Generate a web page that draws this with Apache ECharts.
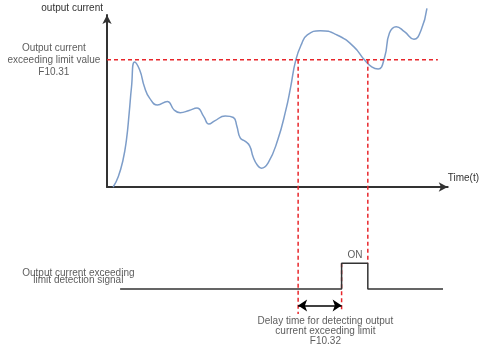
<!DOCTYPE html>
<html>
<head>
<meta charset="utf-8">
<script src="https://cdn.jsdelivr.net/npm/echarts@6/dist/echarts.min.js"></script>
<style>
  html, body { margin: 0; padding: 0; background: #fff; }
  #chart { width: 480px; height: 347px; }
</style>
</head>
<body>
<div id="chart"></div>
<script>
// output current curve (time / current, arbitrary units)
const curveTime = [1.8, 3.3, 4.7, 5.7, 6.5, 7.2, 8.1, 9.6, 11.0, 12.5, 14.8, 17.7, 19.7, 21.5, 24.1, 26.4,
  28.4, 29.9, 31.6, 34.7, 37.1, 38.1, 39.1, 40.6, 41.9, 42.9, 44.1, 45.3, 47.3, 50.1, 52.5, 53.9,
  55.4, 57.1, 58.8, 62.6, 67.5, 72.4, 75.6, 77.7, 79.6, 81.5, 82.9, 84.9, 87.3, 90.1, 92.2, 93.9];
const curveCurrent = [0, 6.0, 15.7, 27.3, 42.8, 58.3, 72.7, 68.0, 58.1, 51.7, 47.7, 49.7, 44.8, 43.2, 44.5, 45.9,
  40.9, 36.6, 38.4, 41.3, 40.4, 35.5, 28.5, 26.5, 23.8, 17.4, 12.8, 10.9, 14.0, 27.3, 44.8, 58.1,
  73.8, 83.1, 88.4, 90.9, 88.4, 81.6, 73.8, 69.8, 68.6, 75.6, 89.5, 93.2, 90.3, 85.9, 91.3, 103.9];

// limit F10.31 and the times where the curve crosses it
const limitValue = 74;
const limitLineEnd = 95.9;
const crossUp = 55.4;
const crossDown = 75.6;
const signalOnTime = 68.0;

// detection signal (lower part, same time scale)
const signalTime = [3.8, 68.0, 68.0, 75.6, 75.6, 97.4];
const signalLevel = [-59.3, -59.3, -44.4, -44.4, -59.3, -59.3];
const guideBottom = -73.8;
const riseGuideBottom = -72.7;
const delayArrowLevel = -68.9;

// text annotations
const noteTexts = [
  'Output current\nexceeding limit value\nF10.31',
  'Output current exceeding\nlimit detection signal',
  'ON',
  'Delay time for detecting output\ncurrent exceeding limit\nF10.32'
];
const noteTime = [-15.4, -8.3, 71.9, 63.3];
const noteLevel = [73.5, -52.3, -39.8, -83.7];
const noteLineHeight = [12, 7.5, 12, 10];

const FONT = 'Liberation Sans, Arial, sans-serif';
const RED = '#e8262b';
const INK = '#333';

const chart = echarts.init(document.getElementById('chart'));

const redDash = { color: RED, width: 1.5, type: [4, 3] };
const zip = (a, b) => a.map((v, i) => [v, b[i]]);

chart.setOption({
  animation: false,
  grid: [
    { left: 107, top: 15, width: 345, height: 172 },
    { left: 107, top: 15, width: 345, height: 326.8 }
  ],
  xAxis: [{
    type: 'value',
    gridIndex: 0,
    min: 0,
    max: 100,
    name: 'Time(t)',
    nameLocation: 'end',
    nameGap: 0,
    nameTextStyle: { fontFamily: FONT, fontSize: 10, color: INK, verticalAlign: 'bottom', align: 'left', padding: [0, 0, 4, 0] },
    axisLine: { show: true, symbol: ['none', 'arrow'], symbolSize: [7, 9], lineStyle: { color: INK, width: 2 } },
    axisTick: { show: false },
    axisLabel: { show: false },
    splitLine: { show: false }
  }, {
    type: 'value',
    gridIndex: 1,
    min: 0,
    max: 100,
    show: false
  }],
  yAxis: [{
    type: 'value',
    gridIndex: 0,
    min: 0,
    max: 100,
    name: 'output current',
    nameLocation: 'end',
    nameGap: 2,
    nameTextStyle: { fontFamily: FONT, fontSize: 10, color: INK, align: 'right', verticalAlign: 'bottom', padding: [0, 4, 0, 0] },
    axisLine: { show: true, symbol: ['none', 'arrow'], symbolSize: [7, 9], lineStyle: { color: INK, width: 2 } },
    axisTick: { show: false },
    axisLabel: { show: false },
    splitLine: { show: false }
  }, {
    type: 'value',
    gridIndex: 1,
    min: -90,
    max: 100,
    show: false
  }],
  series: [{
    name: 'current',
    type: 'line',
    xAxisIndex: 0,
    yAxisIndex: 0,
    smooth: 0.5,
    showSymbol: false,
    clip: false,
    lineStyle: { color: '#7d9dc9', width: 1.5 },
    data: zip(curveTime, curveCurrent)
  }, {
    name: 'limit',
    type: 'line',
    xAxisIndex: 1,
    yAxisIndex: 1,
    showSymbol: false,
    lineStyle: redDash,
    data: [[0, limitValue], [limitLineEnd, limitValue]]
  }, {
    name: 'guide up',
    type: 'line',
    xAxisIndex: 1,
    yAxisIndex: 1,
    showSymbol: false,
    lineStyle: redDash,
    data: [[crossUp, limitValue], [crossUp, guideBottom]]
  }, {
    name: 'guide down',
    type: 'line',
    xAxisIndex: 1,
    yAxisIndex: 1,
    showSymbol: false,
    lineStyle: redDash,
    data: [[crossDown, limitValue], [crossDown, signalLevel[2]]]
  }, {
    name: 'guide on',
    type: 'line',
    xAxisIndex: 1,
    yAxisIndex: 1,
    showSymbol: false,
    lineStyle: redDash,
    data: [[signalOnTime, signalLevel[2]], [signalOnTime, riseGuideBottom]]
  }, {
    name: 'signal',
    type: 'line',
    xAxisIndex: 1,
    yAxisIndex: 1,
    showSymbol: false,
    lineStyle: { color: INK, width: 1.5 },
    data: zip(signalTime, signalLevel),
    markLine: {
      silent: true,
      symbol: ['arrow', 'arrow'],
      symbolSize: [9, 9],
      label: { show: false },
      lineStyle: { color: '#000', width: 1.5, type: 'solid' },
      data: [[{ coord: [crossUp, delayArrowLevel] }, { coord: [signalOnTime, delayArrowLevel] }]]
    }
  }, {
    name: 'notes',
    type: 'scatter',
    xAxisIndex: 1,
    yAxisIndex: 1,
    clip: false,
    symbolSize: 0,
    silent: true,
    data: noteTexts.map((t, i) => ({
      name: t,
      value: [noteTime[i], noteLevel[i]],
      label: {
        show: true,
        position: 'inside',
        formatter: '{b}',
        align: 'center',
        verticalAlign: 'middle',
        fontFamily: FONT,
        fontSize: 10,
        color: INK,
        lineHeight: noteLineHeight[i]
      }
    }))
  }]
});
</script>
</body>
</html>
